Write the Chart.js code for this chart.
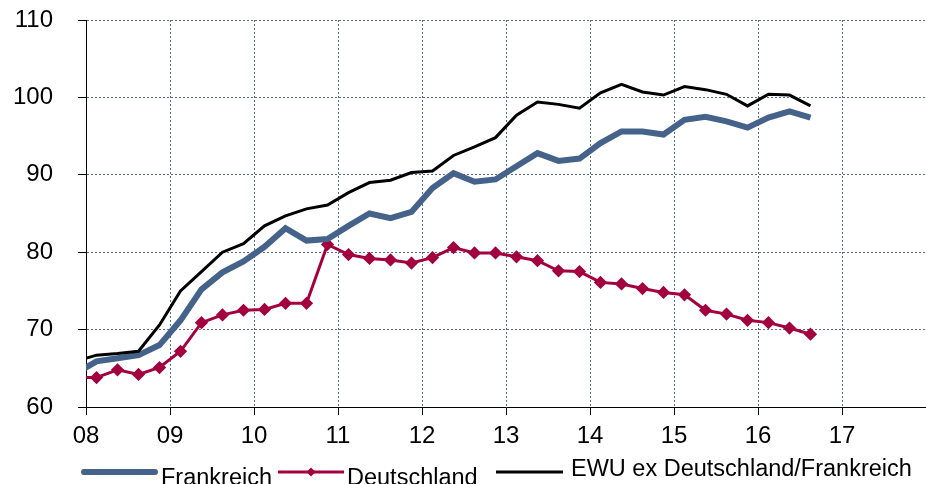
<!DOCTYPE html>
<html>
<head>
<meta charset="utf-8">
<script src="https://cdn.jsdelivr.net/npm/chart.js@4.4.1/dist/chart.umd.min.js"></script>
<style>
    body { margin: 0; background: #fff; }
    #wrap { width: 926px; height: 484px; position: relative; }
</style>
</head>
<body>
<div id="wrap"><canvas id="ratioChart"></canvas></div>
<script>
// Quarterly periods (first one lies just before the axis start and is clipped)
const quarters = [
    '2007Q4',
    '2008Q1', '2008Q2', '2008Q3', '2008Q4',
    '2009Q1', '2009Q2', '2009Q3', '2009Q4',
    '2010Q1', '2010Q2', '2010Q3', '2010Q4',
    '2011Q1', '2011Q2', '2011Q3', '2011Q4',
    '2012Q1', '2012Q2', '2012Q3', '2012Q4',
    '2013Q1', '2013Q2', '2013Q3', '2013Q4',
    '2014Q1', '2014Q2', '2014Q3', '2014Q4',
    '2015Q1', '2015Q2', '2015Q3', '2015Q4',
    '2016Q1', '2016Q2', '2016Q3'
];

const frankreich = [64.3,
    65.9, 66.3, 66.7, 68.0, 71.2, 75.2, 77.4, 78.8, 80.7, 83.1, 81.5, 81.7,
    83.4, 85.0, 84.4, 85.2, 88.3, 90.2, 89.1, 89.4, 91.1, 92.8, 91.8, 92.1,
    94.1, 95.6, 95.6, 95.2, 97.1, 97.5, 96.9, 96.1, 97.4, 98.2, 97.4];

const deutschland = [63.8,
    63.8, 64.8, 64.2, 65.1, 67.2, 70.9, 71.9, 72.5, 72.6, 73.4, 73.4, 81.0,
    79.7, 79.2, 79.0, 78.6, 79.3, 80.6, 79.9, 79.9, 79.4, 78.9, 77.6, 77.5,
    76.1, 75.9, 75.3, 74.8, 74.5, 72.5, 72.0, 71.2, 70.9, 70.2, 69.4];

const ewuEx = [65.9,
    66.7, 66.9, 67.2, 70.6, 75.0, 77.5, 80.0, 81.1, 83.4, 84.7, 85.6, 86.1,
    87.7, 89.0, 89.3, 90.3, 90.5, 92.5, 93.6, 94.8, 97.7, 99.4, 99.1, 98.6,
    100.6, 101.7, 100.7, 100.3, 101.4, 101.0, 100.4, 98.9, 100.4, 100.3, 98.9];

const seriesLabels = ['Frankreich', 'Deutschland', 'EWU ex Deutschland/Frankreich'];

// quarter -> position on the year axis (mid of quarter)
function quarterPos(q) {
    return parseInt(q.slice(0, 4)) + (parseInt(q.slice(5)) - 0.5) / 4;
}
function toPoints(values) {
    return values.map((v, i) => ({ x: quarterPos(quarters[i]), y: v }));
}

const gridColor = 'rgba(50, 72, 115, 0.8)';
const noColor = 'rgba(0,0,0,0)';
const axisFont = { family: '"Liberation Sans", Arial, sans-serif', size: 24 };

function isTick(c, v) {
    return c.tick && Math.abs(c.tick.value - v) < 0.01;
}

// Legend drawn below the axis like the original (items are not on one baseline)
const bottomLegend = {
    id: 'bottomLegend',
    afterDraw(chart, args, opts) {
        const ctx = chart.ctx;
        ctx.save();
        ctx.font = '23.5px "Liberation Sans", Arial, sans-serif';
        ctx.fillStyle = '#000';
        ctx.textAlign = 'left';
        ctx.textBaseline = 'alphabetic';
        chart.data.datasets.forEach((ds, i) => {
            const it = opts.items[i];
            ctx.beginPath();
            ctx.strokeStyle = ds.borderColor;
            ctx.lineWidth = ds.borderWidth;
            ctx.lineCap = it.cap;
            ctx.moveTo(it.x1, it.y);
            ctx.lineTo(it.x2, it.y);
            ctx.stroke();
            if (ds.pointRadius > 0) {
                const mx = (it.x1 + it.x2) / 2;
                const r = ds.pointRadius;
                ctx.beginPath();
                ctx.fillStyle = ds.pointBackgroundColor;
                ctx.moveTo(mx, it.y - r);
                ctx.lineTo(mx + r, it.y);
                ctx.lineTo(mx, it.y + r);
                ctx.lineTo(mx - r, it.y);
                ctx.closePath();
                ctx.fill();
                ctx.fillStyle = '#000';
            }
            ctx.fillText(ds.label, it.tx, it.ty);
        });
        ctx.restore();
    }
};

// fixed axis boxes so the plot area sits where it does in the original
function fitX(scale) {
    scale.height = 77;
    scale.paddingLeft = 0;
    scale.paddingRight = 0;
}
function fitY(scale) {
    scale.width = 86;
    scale.paddingTop = 0;
    scale.paddingBottom = 0;
}

const chart = new Chart(document.getElementById('ratioChart'), {
    type: 'line',
    data: {
        datasets: [{
            label: seriesLabels[0],
            data: toPoints(frankreich),
            borderColor: '#45638A',
            borderWidth: 6,
            pointRadius: 0,
            tension: 0,
            clip: 0,
            order: 2
        }, {
            label: seriesLabels[1],
            data: toPoints(deutschland),
            borderColor: '#A3003F',
            backgroundColor: '#A3003F',
            pointBackgroundColor: '#A3003F',
            pointBorderColor: '#A3003F',
            borderWidth: 3,
            pointRadius: 4.5,
            pointStyle: 'rectRot',
            tension: 0,
            clip: 0,
            order: 3
        }, {
            label: seriesLabels[2],
            data: toPoints(ewuEx),
            borderColor: '#000000',
            borderWidth: 3,
            pointRadius: 0,
            tension: 0,
            clip: 0,
            order: 1
        }]
    },
    options: {
        responsive: true,
        maintainAspectRatio: false,
        animation: false,
        layout: { autoPadding: false, padding: { top: 20, right: 0, left: 0, bottom: 0 } },
        scales: {
            x: {
                type: 'linear',
                min: 2008,
                max: 2018,
                afterFit: fitX,
                border: { color: '#000', width: 1, dash: [2, 2] },
                grid: {
                    color: (c) => (isTick(c, 2008) || isTick(c, 2018)) ? noColor : gridColor,
                    tickColor: (c) => isTick(c, 2018) ? noColor : '#000',
                    tickBorderDash: [],
                    tickLength: 8,
                    lineWidth: 1
                },
                ticks: {
                    stepSize: 1,
                    autoSkip: false,
                    maxRotation: 0,
                    padding: 7,
                    color: '#000',
                    font: axisFont,
                    callback: (v) => v >= 2018 ? '' : String(v).slice(2)
                }
            },
            y: {
                min: 60,
                max: 110,
                afterFit: fitY,
                border: { color: '#000', width: 1, dash: [2, 2] },
                grid: {
                    color: (c) => isTick(c, 60) ? noColor : gridColor,
                    tickColor: '#000',
                    tickBorderDash: [],
                    tickLength: 8,
                    lineWidth: 1
                },
                ticks: {
                    stepSize: 10,
                    padding: 25,
                    color: '#000',
                    font: axisFont
                }
            }
        },
        plugins: {
            legend: { display: false },
            tooltip: { enabled: false },
            bottomLegend: {
                items: [
                    { x1: 84, x2: 155, y: 472, cap: 'round', tx: 161, ty: 485 },
                    { x1: 278, x2: 344, y: 472, cap: 'butt', tx: 347, ty: 485 },
                    { x1: 496, x2: 563, y: 472, cap: 'butt', tx: 571, ty: 476 }
                ]
            }
        }
    },
    plugins: [bottomLegend]
});
</script>
</body>
</html>
